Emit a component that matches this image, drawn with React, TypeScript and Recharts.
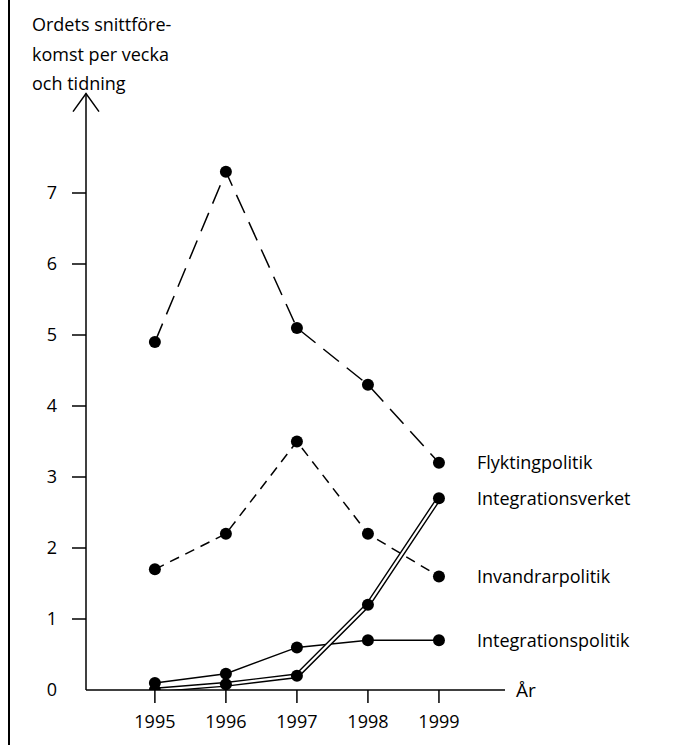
import { LineChart, Line, XAxis, YAxis, LabelList, ReferenceDot } from "recharts";

const years = [1995, 1996, 1997, 1998, 1999];
const flyktingpolitik = [4.9, 7.3, 5.1, 4.3, 3.2];
const invandrarpolitik = [1.7, 2.2, 3.5, 2.2, 1.6];
const integrationsverket = [0, 0.08, 0.2, 1.2, 2.7];
const integrationspolitik = [0.1, 0.23, 0.6, 0.7, 0.7];
const yTicks = [0, 1, 2, 3, 4, 5, 6, 7];
const titleLines = ["Ordets snittföre-", "komst per vecka", "och tidning"];

const xDomain = [1994.03, 1999.93];
const yDomain = [0, 8.4];

const data = years.map((year, i) => ({
  year,
  flyktingpolitik: flyktingpolitik[i],
  invandrarpolitik: invandrarpolitik[i],
  integrationsverket: integrationsverket[i],
  integrationspolitik: integrationspolitik[i],
}));

const FONT = "'Open Sans', Lato, sans-serif";
const FS = 18;
const dot = { r: 6, fill: "#000", stroke: "none" };

// name text to the right of the last point
const endLabel = (name: string) => (props: any) => {
  const { x, y, index } = props;
  if (index !== years.length - 1) return null;
  return (
    <text x={x + 38} y={y} dy="0.35em" fontSize={FS} fontFamily={FONT} fill="#000">
      {name}
    </text>
  );
};

// "År" sits at the end of the x axis line
const axisTitle = (props: any) => {
  const { viewBox } = props;
  return (
    <text x={viewBox.x + viewBox.width + 11} y={viewBox.y} dy="0.38em" fontSize={FS + 1} fontFamily={FONT} fill="#000">
      År
    </text>
  );
};

// y tick: no tick mark at zero, the axes just meet there
const YTick = (props: any) => {
  const { x, y, payload } = props;
  return (
    <g>
      {payload.value !== 0 && (
        <line x1={x + 15} x2={x + 29} y1={y} y2={y} stroke="#000" strokeWidth={1.5} />
      )}
      <text x={x} y={y} dy="0.35em" textAnchor="end" fontSize={FS} fontFamily={FONT} fill="#000">
        {payload.value}
      </text>
    </g>
  );
};

const Arrow = (props: any) => {
  const { cx, cy } = props;
  return (
    <path
      d={`M${cx - 13},${cy + 18} L${cx},${cy} L${cx + 13},${cy + 18}`}
      fill="none"
      stroke="#000"
      strokeWidth={1.5}
    />
  );
};

const App = () => {
  return (
    <div style={{ position: "absolute", left: 0, top: 0, width: 695, height: 745, background: "#fff" }}>
      <div style={{ position: "absolute", left: 8, top: 0, width: 2, height: 745, background: "#000" }} />
      <div
        style={{
          position: "absolute",
          left: 32,
          top: 10,
          fontFamily: FONT,
          fontSize: FS,
          lineHeight: "29.5px",
          color: "#000",
        }}
      >
        {titleLines.map((t) => (
          <div key={t}>{t}</div>
        ))}
      </div>
      <LineChart
        width={695}
        height={745}
        data={data}
        margin={{ top: 93.6, right: 190, bottom: 0, left: 0 }}
        style={{ position: "absolute", left: 0, top: 0 }}
      >
        <XAxis
          dataKey="year"
          type="number"
          domain={xDomain}
          ticks={years}
          allowDataOverflow
          height={55}
          tickSize={13}
          tickMargin={12}
          axisLine={{ stroke: "#000", strokeWidth: 1.5 }}
          tickLine={{ stroke: "#000", strokeWidth: 1.5 }}
          tick={{ fill: "#000", fontSize: FS, fontFamily: FONT }}
          label={{ content: axisTitle }}
        />
        <YAxis
          type="number"
          domain={yDomain}
          ticks={yTicks}
          allowDataOverflow
          width={86}
          tickSize={14}
          tickMargin={15}
          axisLine={{ stroke: "#000", strokeWidth: 1.5 }}
          tickLine={false}
          tick={<YTick />}
        />
        <ReferenceDot x={xDomain[0]} y={yDomain[1]} r={0} ifOverflow="visible" shape={Arrow} />

        <Line
          dataKey="flyktingpolitik"
          stroke="#000"
          strokeWidth={1.5}
          strokeDasharray="20 10"
          dot={dot}
          isAnimationActive={false}
        >
          <LabelList content={endLabel("Flyktingpolitik")} />
        </Line>
        <Line
          dataKey="invandrarpolitik"
          stroke="#000"
          strokeWidth={1.5}
          strokeDasharray="10 7"
          dot={dot}
          isAnimationActive={false}
        >
          <LabelList content={endLabel("Invandrarpolitik")} />
        </Line>
        <Line
          dataKey="integrationspolitik"
          stroke="#000"
          strokeWidth={1.5}
          dot={dot}
          isAnimationActive={false}
        >
          <LabelList content={endLabel("Integrationspolitik")} />
        </Line>
        {/* double line: thick black under a thin white core */}
        <Line
          dataKey="integrationsverket"
          stroke="#000"
          strokeWidth={5}
          dot={false}
          legendType="none"
          isAnimationActive={false}
        />
        <Line
          dataKey="integrationsverket"
          stroke="#fff"
          strokeWidth={2.2}
          dot={dot}
          isAnimationActive={false}
        >
          <LabelList content={endLabel("Integrationsverket")} />
        </Line>
      </LineChart>
    </div>
  );
};

export default App;
